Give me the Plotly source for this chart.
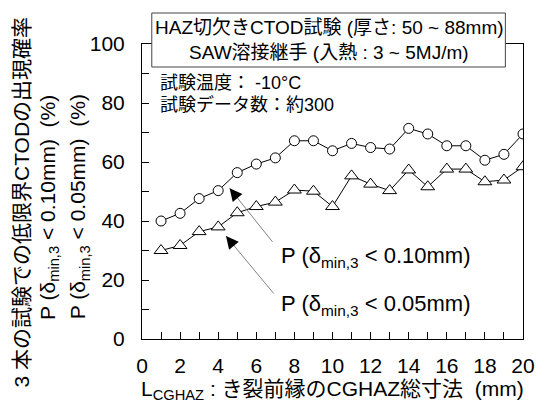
import plotly.graph_objects as go

# Total CGHAZ length along the crack front (mm)
l_cghaz = list(range(1, 21))

# Probability of low-bound CTOD in 3-specimen sets (%)
p_010 = [40.0, 42.6, 47.6, 50.3, 56.4, 59.3, 61.4, 67.2, 67.2, 63.8,
         66.3, 64.9, 64.4, 71.4, 69.5, 65.5, 65.5, 60.6, 62.6, 69.5]
p_005 = [30.0, 31.7, 36.4, 38.0, 42.8, 44.9, 46.4, 50.5, 50.1, 44.9,
         55.3, 52.5, 50.3, 57.3, 51.6, 57.6, 57.6, 53.3, 53.9, 58.4]

x_ticks = [0, 2, 4, 6, 8, 10, 12, 14, 16, 18, 20]
y_ticks = [0, 20, 40, 60, 80, 100]

FONT = "Liberation Sans, Noto Sans CJK JP, sans-serif"

fig = go.Figure()

fig.add_trace(go.Scatter(
    x=l_cghaz, y=p_010, mode="lines+markers",
    line=dict(color="black", width=1),
    marker=dict(symbol="circle", size=10, color="white",
                line=dict(color="black", width=1)),
    showlegend=False,
))
fig.add_trace(go.Scatter(
    x=l_cghaz, y=p_005, mode="lines+markers",
    line=dict(color="black", width=1),
    marker=dict(symbol="triangle-up", size=12, color="white",
                line=dict(color="black", width=1)),
    showlegend=False,
))

annotations = []

# Leader arrows: gray shaft plus a short black head
for hx, hy, ax, ay in [(4.6, 51.1, 44, 55), (4.41, 34.9, 49, 59)]:
    annotations.append(dict(x=hx, y=hy, xref="x", yref="y", ax=ax, ay=ay,
                            text="", showarrow=True, arrowhead=0,
                            arrowwidth=1, arrowcolor="#808080"))
    annotations.append(dict(x=hx, y=hy, xref="x", yref="y", ax=9, ay=11,
                            text="", showarrow=True, arrowhead=2,
                            arrowsize=2.5, arrowwidth=1, arrowcolor="black"))

# Series labels
annotations.append(dict(x=7.18, y=27.8, xref="x", yref="y", xanchor="left",
                        yanchor="middle", showarrow=False,
                        text="P (δ<sub>min,3</sub> &lt; 0.10mm)",
                        font=dict(size=22, color="black", family=FONT)))
annotations.append(dict(x=7.18, y=11.5, xref="x", yref="y", xanchor="left",
                        yanchor="middle", showarrow=False,
                        text="P (δ<sub>min,3</sub> &lt; 0.05mm)",
                        font=dict(size=22, color="black", family=FONT)))

# Test conditions
annotations.append(dict(x=0.043, y=(339 - 83) / 295, xref="paper", yref="paper",
                        xanchor="left", yanchor="middle", showarrow=False,
                        text="試験温度：\u00a0-10°C",
                        font=dict(size=18, color="black", family=FONT)))
annotations.append(dict(x=0.043, y=(339 - 105) / 295, xref="paper", yref="paper",
                        xanchor="left", yanchor="middle", showarrow=False,
                        text="試験データ数：約300",
                        font=dict(size=18, color="black", family=FONT)))

# Boxed heading
annotations.append(dict(x=(333 - 142) / 389, y=(339 - 28) / 295, xref="paper",
                        yref="paper", xanchor="center", yanchor="middle",
                        showarrow=False,
                        text="HAZ切欠きCTOD試験 (厚さ: 50 ~ 88mm)",
                        font=dict(size=19, color="black", family=FONT)))
annotations.append(dict(x=(333 - 142) / 389, y=(339 - 53) / 295, xref="paper",
                        yref="paper", xanchor="center", yanchor="middle",
                        showarrow=False,
                        text="SAW溶接継手 (入熱 : 3 ~ 5MJ/m)",
                        font=dict(size=19, color="black", family=FONT)))

# Axis titles
annotations.append(dict(x=(337 - 142) / 389, y=(339 - 390) / 295, xref="paper",
                        yref="paper", xanchor="center", yanchor="middle",
                        showarrow=False,
                        text="L<sub>CGHAZ</sub> : き裂前縁のCGHAZ総寸法\u00a0\u00a0(mm)",
                        font=dict(size=21, color="black", family=FONT)))
for xp, yp, txt in [
    (18, 202, "3 本の試験での低限界CTODの出現確率"),
    (47, 207, "P (δ<sub>min,3</sub> &lt; 0.10mm)\u00a0\u00a0(%)"),
    (78, 207, "P (δ<sub>min,3</sub> &lt; 0.05mm)\u00a0\u00a0(%)"),
]:
    annotations.append(dict(x=(xp - 142) / 389, y=(339 - yp) / 295,
                            xref="paper", yref="paper", xanchor="center",
                            yanchor="middle", textangle=-90, showarrow=False,
                            text=txt,
                            font=dict(size=21, color="black", family=FONT)))

shapes = [dict(type="rect", xref="paper", yref="paper",
               x0=(152 - 142) / 389, x1=(513 - 142) / 389,
               y0=(339 - 67) / 295, y1=(339 - 13) / 295,
               line=dict(color="#444444", width=1), fillcolor="white",
               layer="above")]

fig.update_layout(
    width=547, height=407,
    margin=dict(l=142, r=16, t=44, b=68),
    paper_bgcolor="white", plot_bgcolor="white",
    font=dict(family=FONT, size=21, color="black"),
    annotations=annotations,
    shapes=shapes,
)
fig.update_xaxes(
    range=[0, 20], tickvals=x_ticks, ticks="inside", ticklen=7,
    tickcolor="black", showline=True, linecolor="black", linewidth=1,
    mirror=True, showgrid=False, zeroline=False, ticklabelstandoff=8,
    minor=dict(dtick=1, ticks="inside", ticklen=7, tickcolor="black",
               showgrid=False),
    tickfont=dict(size=21),
)
fig.update_yaxes(
    range=[0, 100], tickvals=y_ticks, ticks="inside", ticklen=7,
    tickcolor="black", showline=True, linecolor="black", linewidth=1,
    mirror=True, showgrid=False, zeroline=False, ticklabelstandoff=12,
    minor=dict(dtick=10, ticks="inside", ticklen=7, tickcolor="black",
               showgrid=False),
    tickfont=dict(size=21),
)

fig.write_html("out.html")
